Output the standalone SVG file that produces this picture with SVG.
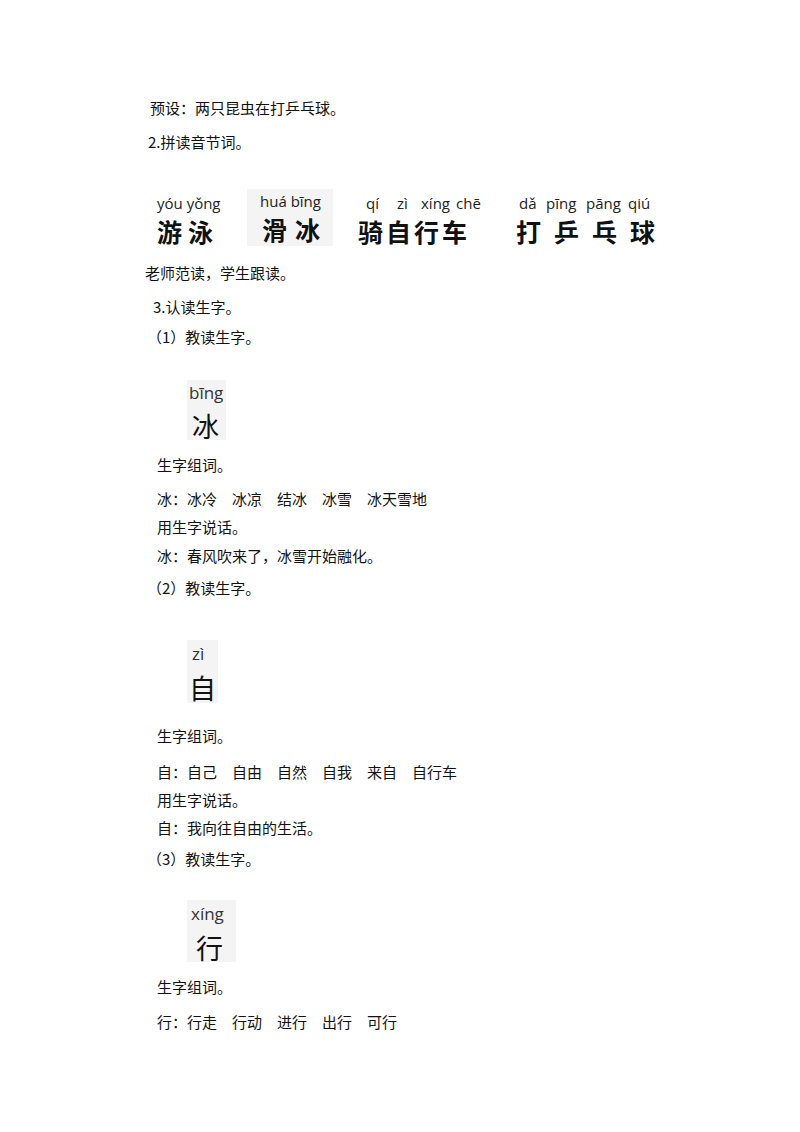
<svg xmlns="http://www.w3.org/2000/svg" width="800" height="1132" viewBox="0 0 800 1132">
<style>
.t{font-family:"Noto Sans CJK SC",sans-serif;font-size:15px;fill:#111}
.py{font-family:"Open Sans","DejaVu Sans",sans-serif;font-size:15px;fill:#222}
.hz{font-family:"Noto Sans CJK SC",sans-serif;font-size:25px;font-weight:bold;fill:#111}
.bx{fill:#f4f4f4}
.py2{font-family:"Open Sans","DejaVu Sans",sans-serif;font-size:17px;fill:#333}
.hz2{font-family:"Noto Sans CJK SC",sans-serif;font-size:27px;fill:#111}
</style>
<rect width="800" height="1132" fill="#fff"/>
<text class="t" x="150" y="114">预设：两只昆虫在打乒乓球。</text>
<text class="t" x="148" y="148">2.拼读音节词。</text>
<rect class="bx" x="247" y="189" width="86" height="57"/>
<g class="py">
<text x="157" y="209">yóu yǒng</text>
<text x="260" y="207">huá bīng</text>
<text x="366" y="209">qí</text><text x="397" y="209">zì</text><text x="421" y="209">xíng</text><text x="456" y="209">chē</text>
<text x="519" y="209">dǎ</text><text x="546" y="209">pīng</text><text x="586" y="209">pāng</text><text x="628" y="209">qiú</text>
</g>
<text class="hz" x="157" y="242" letter-spacing="6">游泳</text>
<text class="hz" x="262" y="240" font-size="22" letter-spacing="8">滑冰</text>
<text class="hz" x="358" y="242" letter-spacing="3">骑自行车</text>
<text class="hz" x="516" y="242" letter-spacing="13">打乒乓球</text>
<text class="t" x="145" y="279">老师范读，学生跟读。</text>
<text class="t" x="153" y="313">3.认读生字。</text>
<text class="t" x="147" y="343">（1）教读生字。</text>
<rect class="bx" x="187" y="380" width="39" height="60"/>
<text class="py2" x="189" y="399">bīng</text>
<text class="hz2" x="192" y="437">冰</text>
<text class="t" x="157" y="471">生字组词。</text>
<text class="t" x="157" y="505">冰：冰冷　冰凉　结冰　冰雪　冰天雪地</text>
<text class="t" x="157" y="533">用生字说话。</text>
<text class="t" x="157" y="562">冰：春风吹来了，冰雪开始融化。</text>
<text class="t" x="147" y="594">（2）教读生字。</text>
<rect class="bx" x="187" y="640" width="31" height="63"/>
<text class="py2" x="192" y="660">zì</text>
<text class="hz2" x="189" y="699">自</text>
<text class="t" x="157" y="742">生字组词。</text>
<text class="t" x="157" y="778">自：自己　自由　自然　自我　来自　自行车</text>
<text class="t" x="157" y="806">用生字说话。</text>
<text class="t" x="157" y="834">自：我向往自由的生活。</text>
<text class="t" x="147" y="865">（3）教读生字。</text>
<rect class="bx" x="187" y="900" width="49" height="62"/>
<text class="py2" x="191" y="920">xíng</text>
<text class="hz2" x="196" y="959">行</text>
<text class="t" x="157" y="993">生字组词。</text>
<text class="t" x="157" y="1028">行：行走　行动　进行　出行　可行</text>
</svg>
